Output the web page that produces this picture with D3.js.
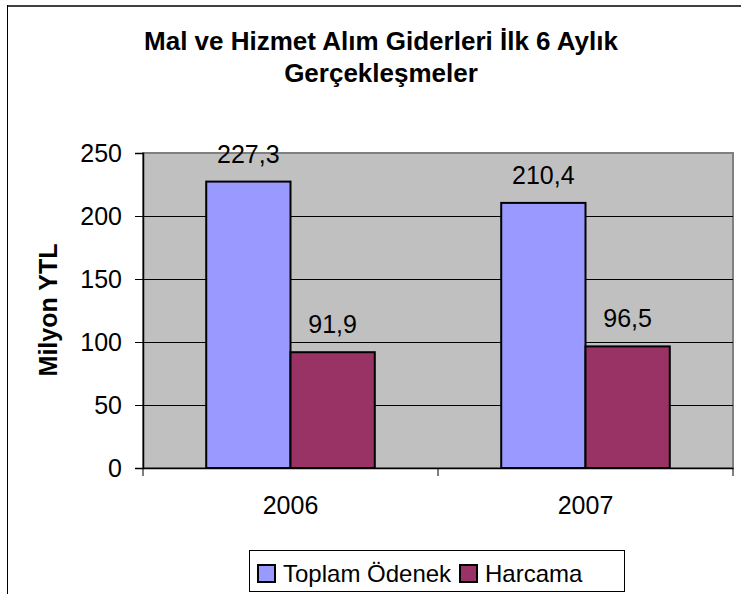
<!DOCTYPE html>
<html>
<head>
<meta charset="utf-8">
<script src="https://cdn.jsdelivr.net/npm/d3@7"></script>
<style>
  body { margin: 0; background: #fff; }
  text { font-family: "Liberation Sans", Arial, sans-serif; }
</style>
</head>
<body>
<div class="container"></div>
<script>
// chart data
var years = ["2006", "2007"];
var series = ["Toplam Ödenek", "Harcama"];
var toplam = [227.3, 210.4];
var harcama = [91.9, 96.5];
var yTicks = [0, 50, 100, 150, 200, 250];
var colors = ["#9999ff", "#993366"];

var W = 741, H = 594;
var plot = {left: 143, top: 153, right: 733, bottom: 468};

var svg = d3.select("div.container").append("svg")
    .attr("width", W)
    .attr("height", H);

// outer chart frame (right/bottom are cut off in the picture)
svg.append("line").attr("x1", 7).attr("x2", W).attr("y1", 6).attr("y2", 6)
    .attr("stroke", "#404040").attr("stroke-width", 2);
svg.append("line").attr("x1", 7.5).attr("x2", 7.5).attr("y1", 5).attr("y2", H)
    .attr("stroke", "#000").attr("stroke-width", 1);

// title
var title = svg.append("text")
    .attr("text-anchor", "middle")
    .attr("font-weight", "bold")
    .attr("font-size", 26);
title.append("tspan").attr("x", 381).attr("y", 50).text("Mal ve Hizmet Alım Giderleri İlk 6 Aylık");
title.append("tspan").attr("x", 381).attr("y", 82).text("Gerçekleşmeler");

// scales
var x0 = d3.scaleBand().domain(years).range([plot.left, plot.right]);
var y = d3.scaleLinear().domain([0, 250]).range([plot.bottom, plot.top]);
// gap width 150% -> two bars + 1.5 bar of gap per category
var barW = x0.bandwidth() / 3.5;

// plot background
svg.append("rect")
    .attr("x", plot.left).attr("y", plot.top)
    .attr("width", plot.right - plot.left).attr("height", plot.bottom - plot.top)
    .attr("fill", "#c0c0c0")
    .attr("stroke", "#808080").attr("stroke-width", 2);

// gridlines
svg.append("g").selectAll("line")
    .data(yTicks.slice(1, -1))
    .join("line")
    .attr("x1", plot.left).attr("x2", plot.right)
    .attr("y1", function(d) { return Math.round(y(d)) + 0.5; })
    .attr("y2", function(d) { return Math.round(y(d)) + 0.5; })
    .attr("stroke", "#000").attr("stroke-width", 1);

// bars + value labels, one series at a time
var vals = [toplam, harcama];
vals.forEach(function(v, si) {
  svg.append("g").selectAll("rect")
      .data(years)
      .join("rect")
      .attr("x", function(d) { return x0(d) + barW * 0.75 + si * barW; })
      .attr("y", function(d, i) { return y(v[i]); })
      .attr("width", barW)
      .attr("height", function(d, i) { return y(0) - y(v[i]); })
      .attr("fill", colors[si])
      .attr("stroke", "#000").attr("stroke-width", 2);

  svg.append("g").selectAll("text")
      .data(years)
      .join("text")
      .attr("x", function(d) { return x0(d) + barW * 0.75 + si * barW + barW / 2; })
      .attr("y", function(d, i) { return y(v[i]) - 19; })
      .attr("text-anchor", "middle")
      .attr("font-size", 25)
      .text(function(d, i) { return String(v[i]).replace(".", ","); });
});

// y axis
var yAxis = svg.append("g")
    .attr("transform", "translate(" + plot.left + ",0)")
    .call(d3.axisLeft(y).tickValues(yTicks).tickSize(8).tickPadding(13));
yAxis.select(".domain").attr("stroke", "#000").attr("stroke-width", 1.5);
yAxis.selectAll("text").attr("font-size", 25).attr("fill", "#000")
    .attr("font-family", "Liberation Sans, Arial, sans-serif");

// x axis
var xAxis = svg.append("g")
    .attr("transform", "translate(0," + plot.bottom + ")")
    .call(d3.axisBottom(x0).tickSize(0).tickPadding(28));
xAxis.select(".domain").attr("stroke", "#000").attr("stroke-width", 1.5);
xAxis.selectAll("text").attr("font-size", 25).attr("fill", "#000")
    .attr("font-family", "Liberation Sans, Arial, sans-serif");
// category separators
svg.append("g").selectAll("line")
    .data([plot.left, x0("2007"), plot.right])
    .join("line")
    .attr("x1", function(d) { return d; }).attr("x2", function(d) { return d; })
    .attr("y1", plot.bottom).attr("y2", plot.bottom + 8)
    .attr("stroke", "#000");

// y axis title
svg.append("text")
    .attr("transform", "translate(57,310) rotate(-90)")
    .attr("text-anchor", "middle")
    .attr("font-weight", "bold")
    .attr("font-size", 25)
    .text("Milyon YTL");

// legend
var legend = svg.append("g").attr("transform", "translate(249,550)");
legend.append("rect")
    .attr("x", 0.5).attr("y", 0.5).attr("width", 375).attr("height", 41)
    .attr("fill", "#fff").attr("stroke", "#000");
var lx = [9, 211];
series.forEach(function(s, i) {
  legend.append("rect")
      .attr("x", lx[i]).attr("y", 15).attr("width", 17).attr("height", 17)
      .attr("fill", colors[i]).attr("stroke", "#000").attr("stroke-width", 2);
  legend.append("text")
      .attr("x", lx[i] + 25).attr("y", 32)
      .attr("font-size", 24)
      .text(s);
});
</script>
</body>
</html>
